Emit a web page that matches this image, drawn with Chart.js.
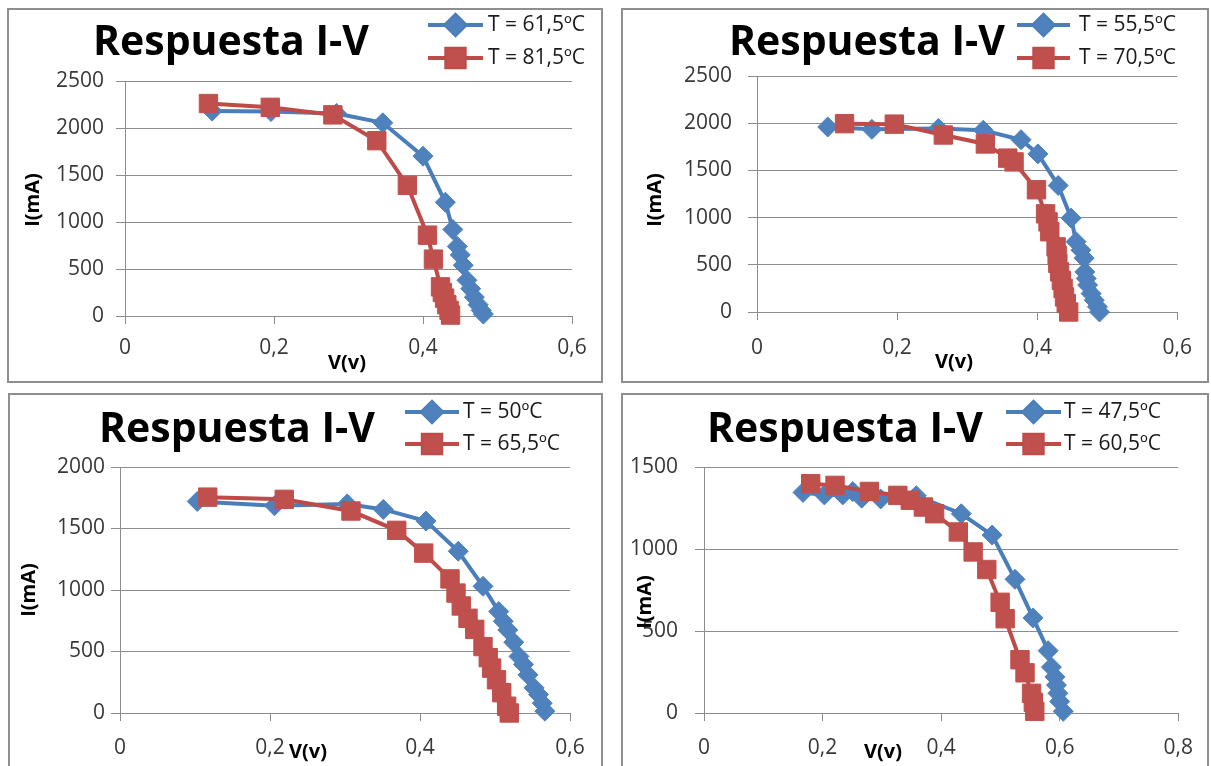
<!DOCTYPE html>
<html>
<head>
<meta charset="utf-8">
<script src="https://cdn.jsdelivr.net/npm/chart.js@4.4.0/dist/chart.umd.min.js"></script>
<style>
  body { margin: 0; background: #fff; width: 1211px; height: 766px; overflow: hidden; position: relative; }
  .frame { position: absolute; border: 2px solid #8e8e8e; box-sizing: border-box; background: #fff; }
  .frame canvas { position: absolute; left: 0; top: 0; }
</style>
</head>
<body>
<div class="frame" id="p1"><canvas></canvas></div>
<div class="frame" id="p2"><canvas></canvas></div>
<div class="frame" id="p3"><canvas></canvas></div>
<div class="frame" id="p4"><canvas></canvas></div>
<script>
const chartTitle = 'Respuesta I-V'
const xTitle = 'V(v)'
const yTitle = 'I(mA)'

// tick values
const xTicks06 = [0, 0.2, 0.4, 0.6]
const xTicks08 = [0, 0.2, 0.4, 0.6, 0.8]
const yTicks2500 = [0, 500, 1000, 1500, 2000, 2500]
const yTicks2000 = [0, 500, 1000, 1500, 2000]
const yTicks1500 = [0, 500, 1000, 1500]

// panel 1
const labels1 = ['T = 61,5ºC', 'T = 81,5ºC']
const v61 = [0.117, 0.196, 0.284, 0.346, 0.400, 0.430, 0.440, 0.446, 0.450, 0.454, 0.459, 0.464, 0.469, 0.474, 0.478, 0.481]
const i61 = [2180, 2175, 2155, 2055, 1700, 1210, 920, 740, 650, 540, 380, 290, 200, 120, 60, 20]
const v81 = [0.112, 0.195, 0.279, 0.338, 0.379, 0.406, 0.414, 0.4235, 0.426, 0.429, 0.432, 0.435, 0.437]
const i81 = [2260, 2220, 2140, 1865, 1390, 860, 605, 310, 250, 190, 120, 60, 10]

// panel 2
const labels2 = ['T = 55,5ºC', 'T = 70,5ºC']
const v55 = [0.101, 0.164, 0.259, 0.323, 0.377, 0.401, 0.430, 0.4485, 0.4555, 0.4625, 0.467, 0.468, 0.470, 0.472, 0.477, 0.4815, 0.486, 0.489]
const i55 = [1960, 1935, 1945, 1925, 1825, 1675, 1340, 995, 745, 655, 570, 425, 355, 285, 195, 125, 55, 0]
const v70 = [0.125, 0.196, 0.266, 0.326, 0.358, 0.367, 0.399, 0.412, 0.4155, 0.418, 0.427, 0.4285, 0.4295, 0.432, 0.4345, 0.437, 0.439, 0.4415, 0.445]
const i70 = [1995, 1990, 1875, 1780, 1630, 1590, 1295, 1040, 955, 850, 690, 600, 515, 425, 335, 250, 160, 90, 0]

// panel 3
const labels3 = ['T = 50ºC', 'T = 65,5ºC']
const v50 = [0.103, 0.206, 0.303, 0.351, 0.408, 0.451, 0.484, 0.505, 0.511, 0.517, 0.525, 0.532, 0.538, 0.544, 0.552, 0.558, 0.563, 0.5665]
const i50 = [1720, 1685, 1700, 1655, 1560, 1315, 1030, 825, 745, 675, 575, 460, 395, 310, 205, 150, 80, 15]
const v65 = [0.117, 0.219, 0.308, 0.369, 0.405, 0.440, 0.448, 0.455, 0.464, 0.473, 0.484, 0.491, 0.4955, 0.502, 0.509, 0.5155, 0.519]
const i65 = [1755, 1737, 1642, 1485, 1300, 1090, 975, 870, 770, 680, 540, 450, 365, 270, 165, 55, 0]

// panel 4
const labels4 = ['T = 47,5ºC', 'T = 60,5ºC']
const v47 = [0.167, 0.203, 0.234, 0.251, 0.266, 0.298, 0.358, 0.434, 0.486, 0.5246, 0.555, 0.5805, 0.586, 0.592, 0.5945, 0.597, 0.600, 0.606]
const i47 = [1345, 1330, 1330, 1350, 1310, 1305, 1325, 1215, 1085, 815, 580, 380, 280, 220, 170, 120, 70, 10]
const v60 = [0.180, 0.221, 0.279, 0.327, 0.348, 0.370, 0.389, 0.429, 0.454, 0.477, 0.4995, 0.508, 0.533, 0.5415, 0.5525, 0.5555, 0.558]
const i60 = [1398, 1388, 1351, 1327, 1297, 1256, 1215, 1104, 982, 875, 675, 575, 325, 245, 120, 65, 10]

Chart.defaults.font.family = '"Open Sans", sans-serif'

const FONT = '"Open Sans", sans-serif'
const GRID = '#8c8c8c'
const TICK_COLOR = '#383838'
const styles = [
  { line: '#4a7ebb', fill: '#4f81bd', pointStyle: 'rectRot', radius: 10, order: 2 },
  { line: '#be4b48', fill: '#c0504d', pointStyle: 'rect', radius: 13, order: 1 },
]

const fmt = (v) => String(Math.round(v * 10) / 10).replace('.', ',')
const toPoints = (vs, is) => vs.map((v, k) => ({ x: v, y: is[k] }))

// title, legend and axis titles drawn at fixed spots of each panel
const panelText = {
  id: 'panelText',
  afterDraw(chart, args, opts) {
    const ctx = chart.ctx
    const [ox, oy] = opts.origin
    ctx.save()
    ctx.textBaseline = 'middle'
    ctx.textAlign = 'left'
    ctx.fillStyle = '#000'
    ctx.font = 'bold 41px ' + FONT
    ctx.fillText(chartTitle, opts.title[0] - ox, opts.title[1] - oy)

    chart.data.datasets.forEach((ds, k) => {
      const st = styles[k]
      const y = opts.legendY[k] - oy
      const x1 = opts.legendX[0] - ox
      const x2 = opts.legendX[1] - ox
      ctx.strokeStyle = st.line
      ctx.lineWidth = 4
      ctx.beginPath()
      ctx.moveTo(x1, y)
      ctx.lineTo(x2, y)
      ctx.stroke()
      ctx.fillStyle = st.fill
      Chart.helpers.drawPoint(ctx, { pointStyle: st.pointStyle, radius: st.radius, rotation: 0, borderWidth: 1 }, (x1 + x2) / 2, y)
      ctx.fill()
      ctx.fillStyle = '#1a1a1a'
      ctx.font = '21px ' + FONT
      ctx.fillText(ds.label, opts.legendX[2] - ox, y)
    })

    ctx.fillStyle = '#000'
    ctx.font = 'bold 20px ' + FONT
    ctx.textAlign = 'center'
    ctx.fillText(xTitle, opts.xTitle[0] - ox, opts.xTitle[1] - oy)
    ctx.translate(opts.yTitle[0] - ox, opts.yTitle[1] - oy)
    ctx.rotate(-Math.PI / 2)
    ctx.fillText(yTitle, 0, 0)
    ctx.restore()
  },
}

function makePanel(cfg) {
  const [fx, fy, fw, fh] = cfg.frame
  const box = document.getElementById(cfg.id)
  box.style.left = fx + 'px'
  box.style.top = fy + 'px'
  box.style.width = fw + 'px'
  box.style.height = fh + 'px'
  const canvas = box.querySelector('canvas')
  const cw = fw - 4
  const ch = fh - 4
  const ox = fx + 2
  const oy = fy + 2
  canvas.width = cw
  canvas.height = ch
  const [al, at, ar, ab] = cfg.area

  new Chart(canvas, {
    type: 'scatter',
    data: {
      datasets: cfg.series.map((s, k) => ({
        label: s.label,
        data: toPoints(s.v, s.i),
        showLine: true,
        borderColor: styles[k].line,
        borderWidth: 4,
        backgroundColor: styles[k].fill,
        pointBackgroundColor: styles[k].fill,
        pointBorderColor: styles[k].fill,
        pointBorderWidth: 1,
        pointStyle: styles[k].pointStyle,
        pointRadius: styles[k].radius,
        order: styles[k].order,
        clip: false,
      })),
    },
    options: {
      responsive: false,
      animation: false,
      devicePixelRatio: 1,
      layout: { padding: { top: at - oy, right: ox + cw - ar, left: 0, bottom: 0 } },
      plugins: {
        legend: { display: false },
        tooltip: { enabled: false },
        panelText: {
          origin: [ox, oy],
          title: cfg.title,
          legendX: cfg.legendX,
          legendY: cfg.legendY,
          xTitle: cfg.xTitle,
          yTitle: cfg.yTitle,
        },
      },
      scales: {
        x: {
          type: 'linear',
          min: cfg.xTicks[0],
          max: cfg.xTicks[cfg.xTicks.length - 1],
          afterBuildTicks: (scale) => { scale.ticks = cfg.xTicks.map((v) => ({ value: v })) },
          afterFit: (scale) => { scale.height = ch - (ab - oy) },
          ticks: { callback: fmt, color: TICK_COLOR, font: { size: 21 }, padding: cfg.xPad, maxRotation: 0 },
          grid: { drawOnChartArea: false, color: GRID, tickLength: 8 },
          border: { color: GRID },
        },
        y: {
          min: cfg.yTicks[0],
          max: cfg.yTicks[cfg.yTicks.length - 1],
          afterBuildTicks: (scale) => { scale.ticks = cfg.yTicks.map((v) => ({ value: v })) },
          afterFit: (scale) => { scale.width = al - ox },
          ticks: { callback: fmt, color: TICK_COLOR, font: { size: 21 }, padding: cfg.yPad },
          grid: { color: GRID, tickLength: 9 },
          border: { color: GRID },
        },
      },
    },
    plugins: [panelText],
  })
}

makePanel({
  id: 'p1', frame: [7, 8, 596, 375], area: [125, 81, 572, 316],
  xTicks: xTicks06, yTicks: yTicks2500, xPad: 11, yPad: 12,
  title: [93, 43], legendX: [428, 483, 488], legendY: [25, 58],
  xTitle: [347, 363], yTitle: [33, 200],
  series: [
    { label: labels1[0], v: v61, i: i61 },
    { label: labels1[1], v: v81, i: i81 },
  ],
})

makePanel({
  id: 'p2', frame: [621, 8, 588, 375], area: [757, 76, 1181, 312],
  xTicks: xTicks06, yTicks: yTicks2500, xPad: 15, yPad: 16,
  title: [729, 43], legendX: [1017, 1070, 1079], legendY: [25, 58],
  xTitle: [954, 362], yTitle: [655, 200],
  series: [
    { label: labels2[0], v: v55, i: i55 },
    { label: labels2[1], v: v70, i: i70 },
  ],
})

makePanel({
  id: 'p3', frame: [8, 393, 595, 378], area: [120, 467, 570, 713],
  xTicks: xTicks06, yTicks: yTicks2000, xPad: 14, yPad: 6,
  title: [99, 430], legendX: [405, 459, 463], legendY: [412, 444],
  xTitle: [308, 752], yTitle: [29, 590],
  series: [
    { label: labels3[0], v: v50, i: i50 },
    { label: labels3[1], v: v65, i: i65 },
  ],
})

makePanel({
  id: 'p4', frame: [621, 393, 588, 378], area: [704, 467, 1181, 713],
  xTicks: xTicks08, yTicks: yTicks1500, xPad: 14, yPad: 17,
  title: [707, 430], legendX: [1006, 1061, 1064], legendY: [412, 444],
  xTitle: [883, 752], yTitle: [645, 602],
  series: [
    { label: labels4[0], v: v47, i: i47 },
    { label: labels4[1], v: v60, i: i60 },
  ],
})
</script>
</body>
</html>
